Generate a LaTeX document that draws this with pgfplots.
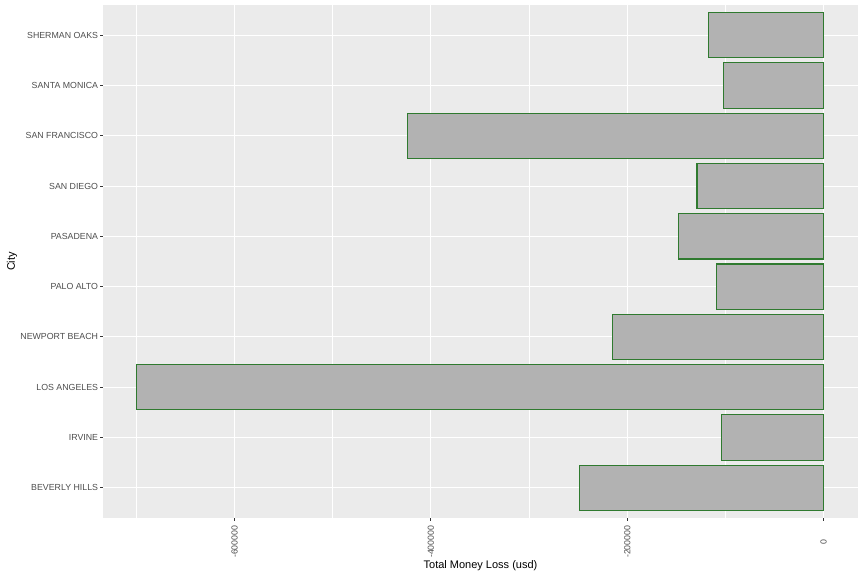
\documentclass[border=0pt]{standalone}
\usepackage{fontspec}
\setmainfont{Liberation Sans}
\usepackage{pgfplots}
\pgfplotsset{compat=1.18}
\definecolor{panel}{HTML}{EBEBEB}
\definecolor{barfill}{HTML}{B2B2B2}
\definecolor{barline}{HTML}{2F7A2F}
\definecolor{ticktext}{HTML}{4D4D4D}
\definecolor{tickcol}{HTML}{333333}
\begin{document}
\begin{tikzpicture}
\begin{axis}[
  at={(0,0)}, anchor=south west,
  scale only axis, width=755bp, height=513bp,
  xmin=-733950, xmax=34950, ymin=0.4, ymax=10.6,
  xbar, bar width=0.9,
  axis background/.style={fill=panel},
  axis line style={draw=none},
  xtick={-600000,-400000,-200000,0},
  xticklabels={-600000,-400000,-200000,0},
  minor xtick={-700000,-500000,-300000,-100000},
  ytick={1,2,3,4,5,6,7,8,9,10},
  yticklabels={BEVERLY HILLS, IRVINE, LOS ANGELES, NEWPORT BEACH, PALO ALTO, PASADENA, SAN DIEGO, SAN FRANCISCO, SANTA MONICA, SHERMAN OAKS},
  xmajorgrids, ymajorgrids, xminorgrids,
  major grid style={white, line width=1.07bp},
  minor grid style={white, line width=0.53bp},
  tick align=outside, tick pos=left,
  major tick length=2.75bp, minor tick length=0pt,
  major tick style={tickcol, line width=1.07bp},
  ticklabel style={font=\fontsize{8.8bp}{10bp}\selectfont, text=ticktext},
  yticklabel style={anchor=east, inner sep=2bp},
  xticklabel style={yshift=-21bp, rotate=90, anchor=center},
  xlabel={Total Money Loss (usd)},
  ylabel={City},
  label style={font=\fontsize{11bp}{13bp}\selectfont, text=black},
  xlabel style={at={(axis description cs:0.5,-0.0936)}, anchor=center},
  ylabel style={at={(axis description cs:-0.1205,0.5)}, anchor=center, rotate=0},
]
\addplot[fill=barfill, draw=barline, line width=1.07bp, mark=none]
  coordinates {
    (-248400,1)
    (-103700,2)
    (-699400,3)
    (-214900,4)
    (-109500,5)
    (-147500,6)
    (-129000,7)
    (-423400,8)
    (-102000,9)
    (-117000,10)
  };
\end{axis}
\pgfresetboundingbox
\path[use as bounding box] (-103bp,-58bp) rectangle (761bp,518bp);
\end{tikzpicture}
\end{document}
